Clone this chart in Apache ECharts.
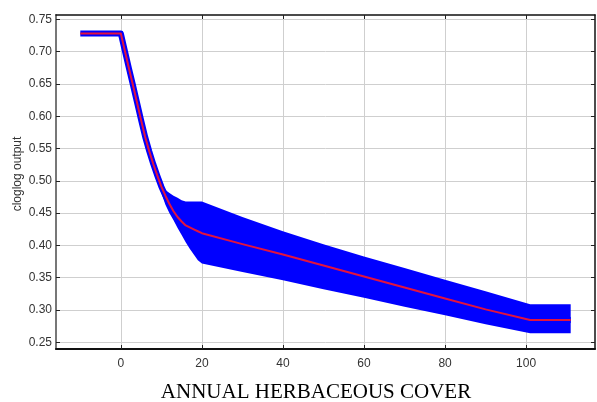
<!DOCTYPE html>
<html>
<head>
<meta charset="utf-8">
<script src="https://cdn.jsdelivr.net/npm/echarts@6/dist/echarts.min.js"></script>
<style>
  html, body { margin: 0; padding: 0; background: #fff; }
  #chart { width: 597px; height: 402px; }
</style>
</head>
<body>
<div id="chart"></div>
<script>
// Response of the cloglog output to annual herbaceous cover (mean and +/- band)
const herbCover = [-10, 0, 1, 2, 3, 4, 5, 6, 7, 8, 9, 10, 11, 12, 13, 14, 15, 16, 17, 18, 19, 20, 30, 40, 50, 60, 70, 80, 90, 101, 111];
const meanResponse = [0.728, 0.728, 0.701, 0.674, 0.648, 0.621, 0.594, 0.568, 0.546, 0.526, 0.508, 0.491, 0.477, 0.464, 0.453, 0.444, 0.437, 0.431, 0.428, 0.425, 0.422, 0.419, 0.402, 0.386, 0.369, 0.352, 0.335, 0.318, 0.301, 0.2845, 0.2845];
const upperResponse = [0.728, 0.728, 0.701, 0.674, 0.648, 0.621, 0.594, 0.568, 0.546, 0.526, 0.508, 0.493, 0.486, 0.481, 0.477, 0.474, 0.470, 0.468, 0.468, 0.468, 0.468, 0.468, 0.444, 0.422, 0.402, 0.383, 0.365, 0.347, 0.329, 0.309, 0.309];
const lowerResponse = [0.728, 0.728, 0.701, 0.674, 0.648, 0.617, 0.589, 0.562, 0.539, 0.518, 0.499, 0.481, 0.463, 0.450, 0.439, 0.427, 0.416, 0.405, 0.395, 0.386, 0.377, 0.372, 0.359, 0.346, 0.332, 0.319, 0.305, 0.292, 0.278, 0.264, 0.264];

const xTicks = [0, 20, 40, 60, 80, 100];
const yTicks = [0.25, 0.30, 0.35, 0.40, 0.45, 0.50, 0.55, 0.60, 0.65, 0.70, 0.75];
const xRange = [-16, 117];
const yRange = [0.2397, 0.7567];

const xLabel = 'ANNUAL HERBACEOUS COVER';
const yLabel = 'cloglog output';

const BLUE = '#0000ff';
const RED = '#e3133d';
const GRID = '#cfcfcf';

const pairs = (ys) => herbCover.map((x, i) => [x, ys[i]]);

const chart = echarts.init(document.getElementById('chart'), null, { renderer: 'canvas' });

const baseX = {
  type: 'value', min: xRange[0], max: xRange[1],
  axisTick: { show: true, inside: true, length: 4, customValues: xTicks, lineStyle: { color: '#222', width: 1 } },
  splitLine: { show: false }
};
const baseY = {
  type: 'value', min: yRange[0], max: yRange[1],
  axisTick: { show: true, inside: true, length: 4, customValues: yTicks, lineStyle: { color: '#222', width: 1 } },
  splitLine: { show: false }
};

chart.setOption({
  animation: false,
  backgroundColor: '#ffffff',
  grid: { left: 56, right: 2, top: 15, bottom: 53, containLabel: false },
  xAxis: [
    Object.assign({}, baseX, {
      position: 'bottom',
      axisLine: { show: true, onZero: false, lineStyle: { color: '#111', width: 2 } },
      axisLabel: { show: true, margin: 9, customValues: xTicks, color: '#333', fontFamily: 'Liberation Sans, Arial, sans-serif', fontSize: 12 },
      splitLine: { show: true, lineStyle: { color: GRID, width: 1 } }
    }),
    Object.assign({}, baseX, {
      position: 'top',
      axisLine: { show: true, onZero: false, lineStyle: { color: '#111', width: 1.5 } },
      axisLabel: { show: false }
    })
  ],
  yAxis: [
    Object.assign({}, baseY, {
      position: 'left',
      axisLine: { show: true, onZero: false, lineStyle: { color: '#777', width: 2 } },
      axisLabel: { show: true, margin: 4, customValues: yTicks, color: '#333', fontFamily: 'Liberation Sans, Arial, sans-serif', fontSize: 12,
        formatter: (v) => v.toFixed(2) },
      splitLine: { show: true, lineStyle: { color: GRID, width: 1 } }
    }),
    Object.assign({}, baseY, {
      position: 'right',
      axisLine: { show: true, onZero: false, lineStyle: { color: '#111', width: 1.5 } },
      axisLabel: { show: false }
    })
  ],
  series: [
    {
      // spread band between the lower and upper curves
      type: 'custom',
      xAxisIndex: 0, yAxisIndex: 0,
      data: [0],
      silent: true,
      z: 2,
      renderItem: (params, api) => {
        const top = herbCover.map((x, i) => api.coord([x, upperResponse[i]]));
        const bottom = herbCover.map((x, i) => api.coord([x, lowerResponse[i]])).reverse();
        return {
          type: 'polygon',
          shape: { points: top.concat(bottom) },
          style: { fill: BLUE, stroke: null }
        };
      }
    },
    {
      // blue outline around the mean curve
      type: 'line',
      data: pairs(meanResponse),
      showSymbol: false,
      symbol: 'none',
      z: 3,
      lineStyle: { color: BLUE, width: 6, cap: 'butt', join: 'round' }
    },
    {
      // mean response
      type: 'line',
      data: pairs(meanResponse),
      showSymbol: false,
      symbol: 'none',
      z: 4,
      lineStyle: { color: RED, width: 2, cap: 'butt', join: 'round' }
    }
  ],
  graphic: [
    {
      type: 'text',
      x: 18, y: 174,
      rotation: Math.PI / 2,
      style: {
        text: yLabel, fill: '#333',
        font: '12px "Liberation Sans", Arial, sans-serif',
        align: 'center', verticalAlign: 'middle'
      }
    },
    {
      type: 'text',
      x: 316, y: 392,
      style: {
        text: xLabel, fill: '#000',
        font: '21px "Liberation Serif", "Times New Roman", serif',
        align: 'center', verticalAlign: 'middle'
      }
    }
  ]
});
</script>
</body>
</html>
